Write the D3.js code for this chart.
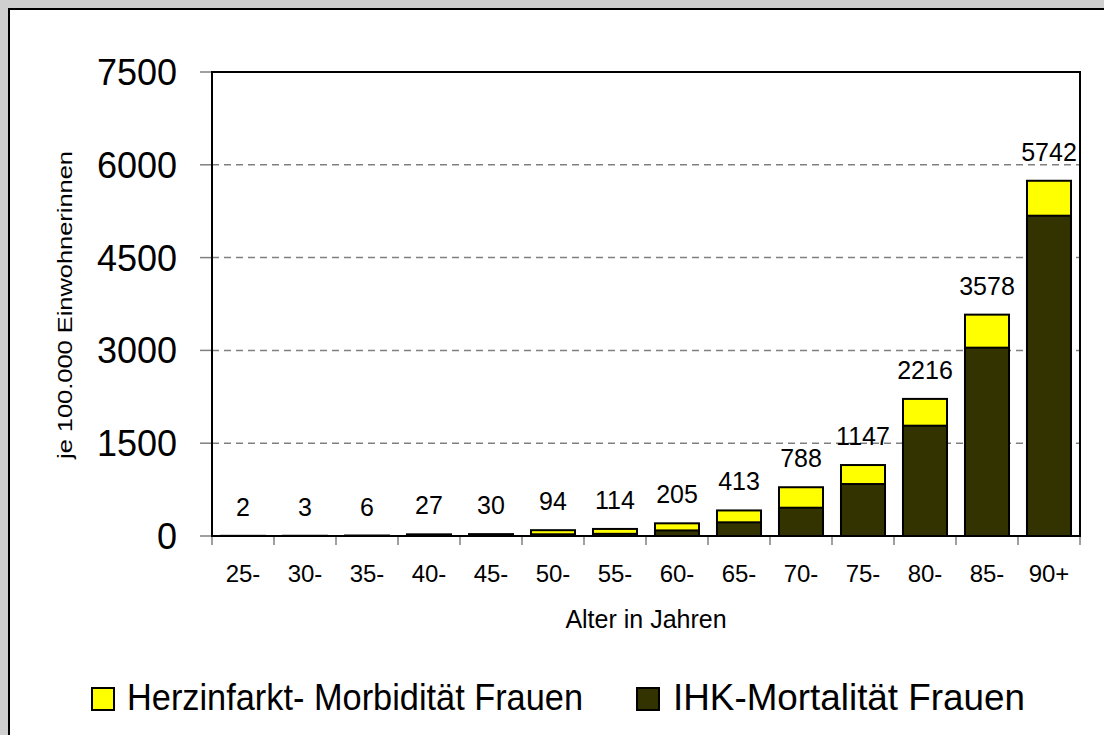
<!DOCTYPE html>
<html><head><meta charset="utf-8">
<script src="https://cdn.jsdelivr.net/npm/d3@7"></script>
<style>html,body{margin:0;padding:0;background:#cfcfcf;}svg{display:block;font-family:"Liberation Sans",Arial,sans-serif;}</style>
</head><body>
<svg id="c" width="1104" height="735"></svg>
<script>
const categories = ["25-","30-","35-","40-","45-","50-","55-","60-","65-","70-","75-","80-","85-","90+"];
const morbidity = [2,3,6,27,30,94,114,205,413,788,1147,2216,3578,5742];
const mortality = [1,1,3,12,18,28,35,90,221,457,840,1783,3044,5177];
const yTicks = [0,1500,3000,4500,6000,7500];
const seriesNames = ["Herzinfarkt- Morbidität Frauen","IHK-Mortalität Frauen"];
const colors = ["#ffff00","#333300"];

const svg = d3.select("#c");
const L = 212, R = 1080, T = 72, B = 536;

// background panel
svg.append("rect").attr("x",0).attr("y",0).attr("width",1104).attr("height",735).attr("fill","#cfcfcf");
svg.append("rect").attr("x",9).attr("y",9).attr("width",1110).attr("height",740)
  .attr("fill","#fff").attr("stroke","#000").attr("stroke-width",2);

const x = d3.scaleBand().domain(categories).range([L,R]).paddingInner(0.29).paddingOuter(0.145);
const y = d3.scaleLinear().domain([0,7500]).range([B,T]);

// gridlines
svg.append("g").selectAll("line").data(yTicks.filter(d=>d>0 && d<7500)).join("line")
  .attr("x1",L).attr("x2",R).attr("y1",d=>y(d)).attr("y2",d=>y(d))
  .attr("stroke","#808080").attr("stroke-width",1.5).attr("stroke-dasharray","7,5");

// y ticks
svg.append("g").selectAll("line").data(yTicks).join("line")
  .attr("x1",200).attr("x2",L).attr("y1",d=>y(d)).attr("y2",d=>y(d))
  .attr("stroke","#808080").attr("stroke-width",1.5);
svg.append("g").selectAll("text").data(yTicks).join("text")
  .attr("x",177).attr("y",d=>y(d)).attr("dy","0.36em").attr("text-anchor","end")
  .attr("font-size",36).attr("fill","#000").text(d=>d);

// x ticks at band boundaries
const bounds = d3.range(categories.length+1).map(i=>L+i*(R-L)/categories.length);
svg.append("g").selectAll("line").data(bounds).join("line")
  .attr("x1",d=>d).attr("x2",d=>d).attr("y1",B).attr("y2",545)
  .attr("stroke","#808080").attr("stroke-width",1.5);
svg.append("g").selectAll("text").data(categories).join("text")
  .attr("x",d=>x(d)+x.bandwidth()/2).attr("y",582).attr("text-anchor","middle")
  .attr("font-size",24).attr("fill","#000").text(d=>d);

// bars: morbidity behind, mortality in front
const bw = x.bandwidth();
svg.append("g").selectAll("rect").data(categories).join("rect")
  .attr("x",d=>x(d)).attr("width",bw)
  .attr("y",(d,i)=>y(morbidity[i])).attr("height",(d,i)=>B-y(morbidity[i]))
  .attr("fill",colors[0]).attr("stroke","#000").attr("stroke-width",2);
svg.append("g").selectAll("rect").data(categories).join("rect")
  .attr("x",d=>x(d)).attr("width",bw)
  .attr("y",(d,i)=>y(mortality[i])).attr("height",(d,i)=>B-y(mortality[i]))
  .attr("fill",colors[1]).attr("stroke","#000").attr("stroke-width",2);

// data labels
svg.append("g").selectAll("text").data(categories).join("text")
  .attr("x",d=>x(d)+bw/2).attr("y",(d,i)=>y(morbidity[i])-20).attr("text-anchor","middle")
  .attr("font-size",25).attr("fill","#000").text((d,i)=>morbidity[i]);

// plot frame
svg.append("rect").attr("x",L).attr("y",T).attr("width",R-L).attr("height",B-T)
  .attr("fill","none").attr("stroke","#000").attr("stroke-width",2);

// axis titles
svg.append("text").attr("x",(L+R)/2).attr("y",628).attr("text-anchor","middle")
  .attr("font-size",25).attr("fill","#000").text("Alter in Jahren");
svg.append("text").attr("transform","translate(72,305) rotate(-90)")
  .attr("text-anchor","middle").attr("font-size",20).attr("fill","#000")
  .attr("textLength",308).attr("lengthAdjust","spacingAndGlyphs")
  .text("je 100.000 Einwohnerinnen");

// legend
const legX = [92,637], legT = [127,673], legW = [456,352];
seriesNames.forEach((n,i)=>{
  svg.append("rect").attr("x",legX[i]).attr("y",688).attr("width",22).attr("height",22)
    .attr("fill",colors[i]).attr("stroke","#000").attr("stroke-width",2);
  svg.append("text").attr("x",legT[i]).attr("y",710).attr("font-size",37).attr("fill","#000")
    .attr("textLength",legW[i]).attr("lengthAdjust","spacingAndGlyphs").text(n);
});
</script>
</body></html>
